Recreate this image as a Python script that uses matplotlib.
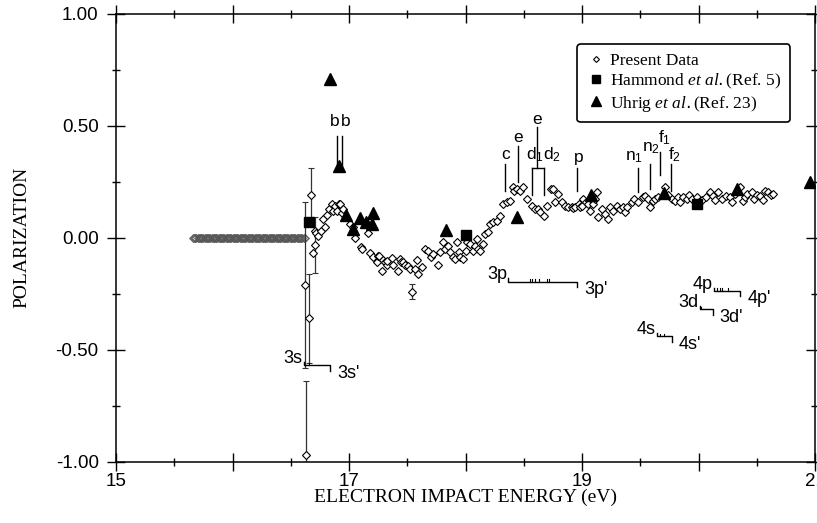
import matplotlib
matplotlib.use("Agg")
import matplotlib.pyplot as plt
from matplotlib.lines import Line2D
from matplotlib.ticker import FixedLocator, FixedFormatter, MultipleLocator, FormatStrFormatter

plt.rcParams['font.family'] = 'Liberation Sans'
plt.rcParams['mathtext.fontset'] = 'custom'
plt.rcParams['mathtext.default'] = 'regular'
plt.rcParams['mathtext.it'] = 'Liberation Serif:italic'
plt.rcParams['axes.unicode_minus'] = False

# Present data - the flat run at zero below threshold (scan points, 10 meV step)
zero_x = [15.66, 15.67, 15.68, 15.69, 15.70, 15.71, 15.72, 15.73, 15.74, 15.75,
          15.76, 15.77, 15.78, 15.79, 15.80, 15.81, 15.82, 15.83, 15.84, 15.85,
          15.86, 15.87, 15.88, 15.89, 15.90, 15.91, 15.92, 15.93, 15.94, 15.95,
          15.96, 15.97, 15.98, 15.99, 16.00, 16.01, 16.02, 16.03, 16.04, 16.05,
          16.06, 16.07, 16.08, 16.09, 16.10, 16.11, 16.12, 16.13, 16.14, 16.15,
          16.16, 16.17, 16.18, 16.19, 16.20, 16.21, 16.22, 16.23, 16.24, 16.25,
          16.26, 16.27, 16.28, 16.29, 16.30, 16.31, 16.32, 16.33, 16.34, 16.35,
          16.36, 16.37, 16.38, 16.39, 16.40, 16.41, 16.42, 16.43, 16.44, 16.45,
          16.46, 16.47, 16.48, 16.49, 16.50, 16.51, 16.52, 16.53, 16.54, 16.55,
          16.56, 16.57, 16.58, 16.59, 16.60, 16.61, 16.62]
zero_y = [0.0] * len(zero_x)

# Present data above threshold
pres_x = [16.69, 16.71, 16.72, 16.73, 16.76, 16.78, 16.79, 16.81, 16.83, 16.85,
          16.86, 16.88, 16.90, 16.91, 16.92, 16.94, 16.95, 17.01, 17.03, 17.03,
          17.05, 17.10, 17.11, 17.16, 17.18, 17.21, 17.24, 17.25, 17.26, 17.28,
          17.29, 17.31, 17.33, 17.33, 17.37, 17.38, 17.42, 17.44, 17.45, 17.46,
          17.48, 17.51, 17.52, 17.57, 17.58, 17.59, 17.63, 17.65, 17.68, 17.70,
          17.72, 17.76, 17.78, 17.81, 17.82, 17.85, 17.87, 17.89, 17.91, 17.93,
          17.94, 17.95, 17.98, 18.00, 18.01, 18.04, 18.06, 18.08, 18.10, 18.11,
          18.12, 18.15, 18.17, 18.19, 18.21, 18.24, 18.27, 18.30, 18.32, 18.36,
          18.38, 18.41, 18.42, 18.44, 18.47, 18.49, 18.53, 18.57, 18.60, 18.62,
          18.64, 18.67, 18.70, 18.73, 18.75, 18.77, 18.79, 18.83, 18.85, 18.88,
          18.91, 18.92, 18.94, 18.97, 18.98, 19.00, 19.01, 19.03, 19.05, 19.07,
          19.09, 19.11, 19.13, 19.14, 19.17, 19.20, 19.22, 19.24, 19.27, 19.30,
          19.33, 19.35, 19.37, 19.39, 19.43, 19.45, 19.48, 19.52, 19.54, 19.57,
          19.58, 19.61, 19.63, 19.65, 19.71, 19.74, 19.77, 19.80, 19.82, 19.84,
          19.87, 19.90, 19.92, 19.94, 19.99, 20.01, 20.03, 20.06, 20.10, 20.12,
          20.14, 20.17, 20.20, 20.24, 20.27, 20.29, 20.31, 20.36, 20.38, 20.40,
          20.42, 20.46, 20.48, 20.50, 20.53, 20.55, 20.57, 20.60, 20.62, 20.64]
pres_y = [-0.07, 0.03, 0.02, 0.01, 0.03, 0.085, 0.05, 0.10, 0.13, 0.15,
          0.12, 0.14, 0.12, 0.15, 0.15, 0.11, 0.13, 0.06, 0.03, 0.05,
          0.00, -0.04, -0.05, 0.02, -0.07, -0.085, -0.11, -0.08, -0.08, -0.15,
          -0.10, -0.107, -0.12, -0.103, -0.09, -0.12, -0.15, -0.094, -0.11, -0.107,
          -0.12, -0.125, -0.14, -0.138, -0.10, -0.16, -0.13, -0.05, -0.058, -0.085,
          -0.071, -0.12, -0.063, -0.02, -0.049, -0.036, -0.063, -0.085, -0.094, -0.018,
          -0.063, -0.085, -0.094, -0.058, -0.018, -0.027, -0.058, -0.036, -0.004, -0.049,
          -0.058, -0.027, 0.018, 0.027, 0.063, 0.071, 0.076, 0.098, 0.152, 0.161,
          0.165, 0.228, 0.21, 0.219, 0.21, 0.228, 0.174, 0.143, 0.129, 0.129,
          0.116, 0.098, 0.143, 0.219, 0.219, 0.161, 0.196, 0.161, 0.143, 0.138,
          0.138, 0.134, 0.138, 0.152, 0.138, 0.143, 0.174, 0.161, 0.152, 0.121,
          0.152, 0.174, 0.205, 0.094, 0.129, 0.107, 0.085, 0.138, 0.121, 0.143,
          0.129, 0.138, 0.116, 0.138, 0.161, 0.174, 0.161, 0.183, 0.188, 0.174,
          0.138, 0.165, 0.174, 0.183, 0.228, 0.19, 0.174, 0.165, 0.18, 0.161,
          0.183, 0.174, 0.19, 0.174, 0.183, 0.165, 0.17, 0.183, 0.205, 0.188,
          0.17, 0.205, 0.174, 0.188, 0.18, 0.161, 0.196, 0.228, 0.165, 0.18,
          0.196, 0.205, 0.174, 0.19, 0.188, 0.17, 0.21, 0.205, 0.19, 0.196]

# Present data points drawn with error bars
err_x = [16.62, 16.63, 16.66, 16.67, 16.71, 17.54]
err_y = [-0.21, -0.97, -0.36, 0.19, -0.03, -0.24]
err_e = [0.37, 0.33, 0.20, 0.12, 0.125, 0.035]

# Hammond et al. (Ref. 5)
ham_x = [16.66, 18.00, 19.99]
ham_y = [0.07, 0.013, 0.152]

# Uhrig et al. (Ref. 23)
uhr_x = [16.84, 16.91, 16.97, 17.03, 17.09, 17.15, 17.20, 17.21, 17.83, 18.44,
         19.08, 19.70, 20.33, 20.96]
uhr_y = [0.71, 0.32, 0.10, 0.04, 0.09, 0.07, 0.06, 0.11, 0.036, 0.094,
         0.19, 0.20, 0.22, 0.25]

# resonance labels: text, x, y, alignment
res_labels = [('b', 16.88, 0.52, 'center'), ('b', 16.97, 0.52, 'center'),
              ('c', 18.34, 0.37, 'center'), ('e', 18.45, 0.45, 'center'),
              ('e', 18.61, 0.53, 'center'), ('d$_1$', 18.52, 0.37, 'left'),
              ('d$_2$', 18.665, 0.37, 'left'), ('p', 18.97, 0.36, 'center'),
              ('n$_1$', 19.37, 0.36, 'left'), ('n$_2$', 19.515, 0.40, 'left'),
              ('f$_1$', 19.65, 0.445, 'left'), ('f$_2$', 19.735, 0.37, 'left')]
# resonance marker lines: x, top, bottom
res_lines = [(16.90, 0.455, 0.317), (16.94, 0.455, 0.317), (18.34, 0.33, 0.21),
             (18.45, 0.41, 0.25), (18.61, 0.495, 0.31), (18.57, 0.31, 0.19),
             (18.67, 0.31, 0.19), (18.96, 0.31, 0.21), (19.48, 0.31, 0.205),
             (19.58, 0.33, 0.22), (19.67, 0.385, 0.28), (19.76, 0.33, 0.21)]

# thresholds: left name, right name, x start, x end, level, fine-structure ticks
thresholds = [('3s', "3s'", 16.61, 16.84, -0.57, [16.66]),
              ('3p', "3p'", 18.365, 18.96, -0.196, [18.55, 18.57, 18.60, 18.63, 18.70, 18.72]),
              ('4s', "4s'", 19.64, 19.77, -0.44, [19.67, 19.70]),
              ('3d', "3d'", 20.01, 20.12, -0.32, [20.02]),
              ('4p', "4p'", 20.13, 20.36, -0.237, [20.16, 20.18, 20.20, 20.25])]

fig = plt.figure(figsize=(8.17, 5.23), dpi=100)
ax = fig.add_axes([0.142, 0.117, 0.8556, 0.8566])

ax.plot(zero_x, zero_y, 'D', ms=3.6, mfc='none', mec='#555555', mew=0.6, ls='none')
ax.errorbar(err_x, err_y, yerr=err_e, fmt='D', ms=3.6, mfc='white', mec='black',
            mew=0.8, ecolor='#333333', elinewidth=0.9, capsize=2)
ax.plot(pres_x, pres_y, 'D', ms=3.6, mfc='white', mec='black', mew=0.8, ls='none')
ax.plot(ham_x, ham_y, 's', ms=6.5, color='black', ls='none')
ax.plot(uhr_x, uhr_y, '^', ms=8, color='black', ls='none')

for t, tx, ty, al in res_labels:
    ax.text(tx, ty, t, ha=al, va='center', fontsize=12.5)
for lx, ly0, ly1 in res_lines:
    ax.plot([lx, lx], [ly0, ly1], color='black', lw=1)
ax.plot([18.57, 18.67], [0.31, 0.31], color='black', lw=1)

for left, right, x0, x1, lev, fine in thresholds:
    ax.plot([x0, x0, x1, x1], [lev + 0.015, lev, lev, lev - 0.025], color='black', lw=1)
    for fx in fine:
        ax.plot([fx, fx], [lev, lev + 0.012], color='black', lw=0.8)
    ax.text(x0 - 0.01, lev + 0.03, left, ha='right', va='center', fontsize=13)
    ax.text(x1 + 0.06, lev - 0.035, right, ha='left', va='center', fontsize=13)

ax.set_xlim(15, 21)
ax.set_ylim(-1, 1)
ax.xaxis.set_major_locator(FixedLocator([15, 16, 17, 18, 19, 20, 21]))
ax.xaxis.set_major_formatter(FixedFormatter(['15', '', '17', '', '19', '', '21']))
ax.xaxis.set_minor_locator(MultipleLocator(0.5))
ax.yaxis.set_major_locator(MultipleLocator(0.5))
ax.yaxis.set_minor_locator(MultipleLocator(0.25))
ax.yaxis.set_major_formatter(FormatStrFormatter('%.2f'))
ax.tick_params(which='major', direction='inout', length=13, width=1,
               top=True, right=True, labelsize=13.5)
ax.tick_params(axis='x', which='major', pad=1.5)
ax.tick_params(axis='y', which='major', pad=6)
ax.tick_params(which='minor', direction='inout', length=6, width=1, top=True, right=True)
for s in ax.spines.values():
    s.set_linewidth(1.1)

ax.set_xlabel('ELECTRON IMPACT ENERGY (eV)', family='Liberation Serif', fontsize=14, labelpad=-1)
ax.set_ylabel('POLARIZATION', family='Liberation Serif', fontsize=14, labelpad=18)

handles = [Line2D([], [], marker='D', ms=3, mfc='white', mec='black', mew=0.8, ls='none'),
           Line2D([], [], marker='s', ms=6, color='black', ls='none'),
           Line2D([], [], marker='^', ms=7, color='black', ls='none')]
labels = ['Present Data', r'Hammond $\it{et\ al.}$(Ref. 5)', r'Uhrig $\it{et\ al.}$(Ref. 23)']
leg = ax.legend(handles, labels, loc='upper left', bbox_to_anchor=(0.66, 0.932),
                borderaxespad=0, fancybox=True, framealpha=1, edgecolor='black',
                prop={'family': 'Liberation Serif', 'size': 12.5}, handletextpad=0.2,
                handlelength=1.2, labelspacing=0.15, borderpad=0.5)
leg.get_frame().set_linewidth(1.2)

fig.savefig('out.png', dpi=100)
